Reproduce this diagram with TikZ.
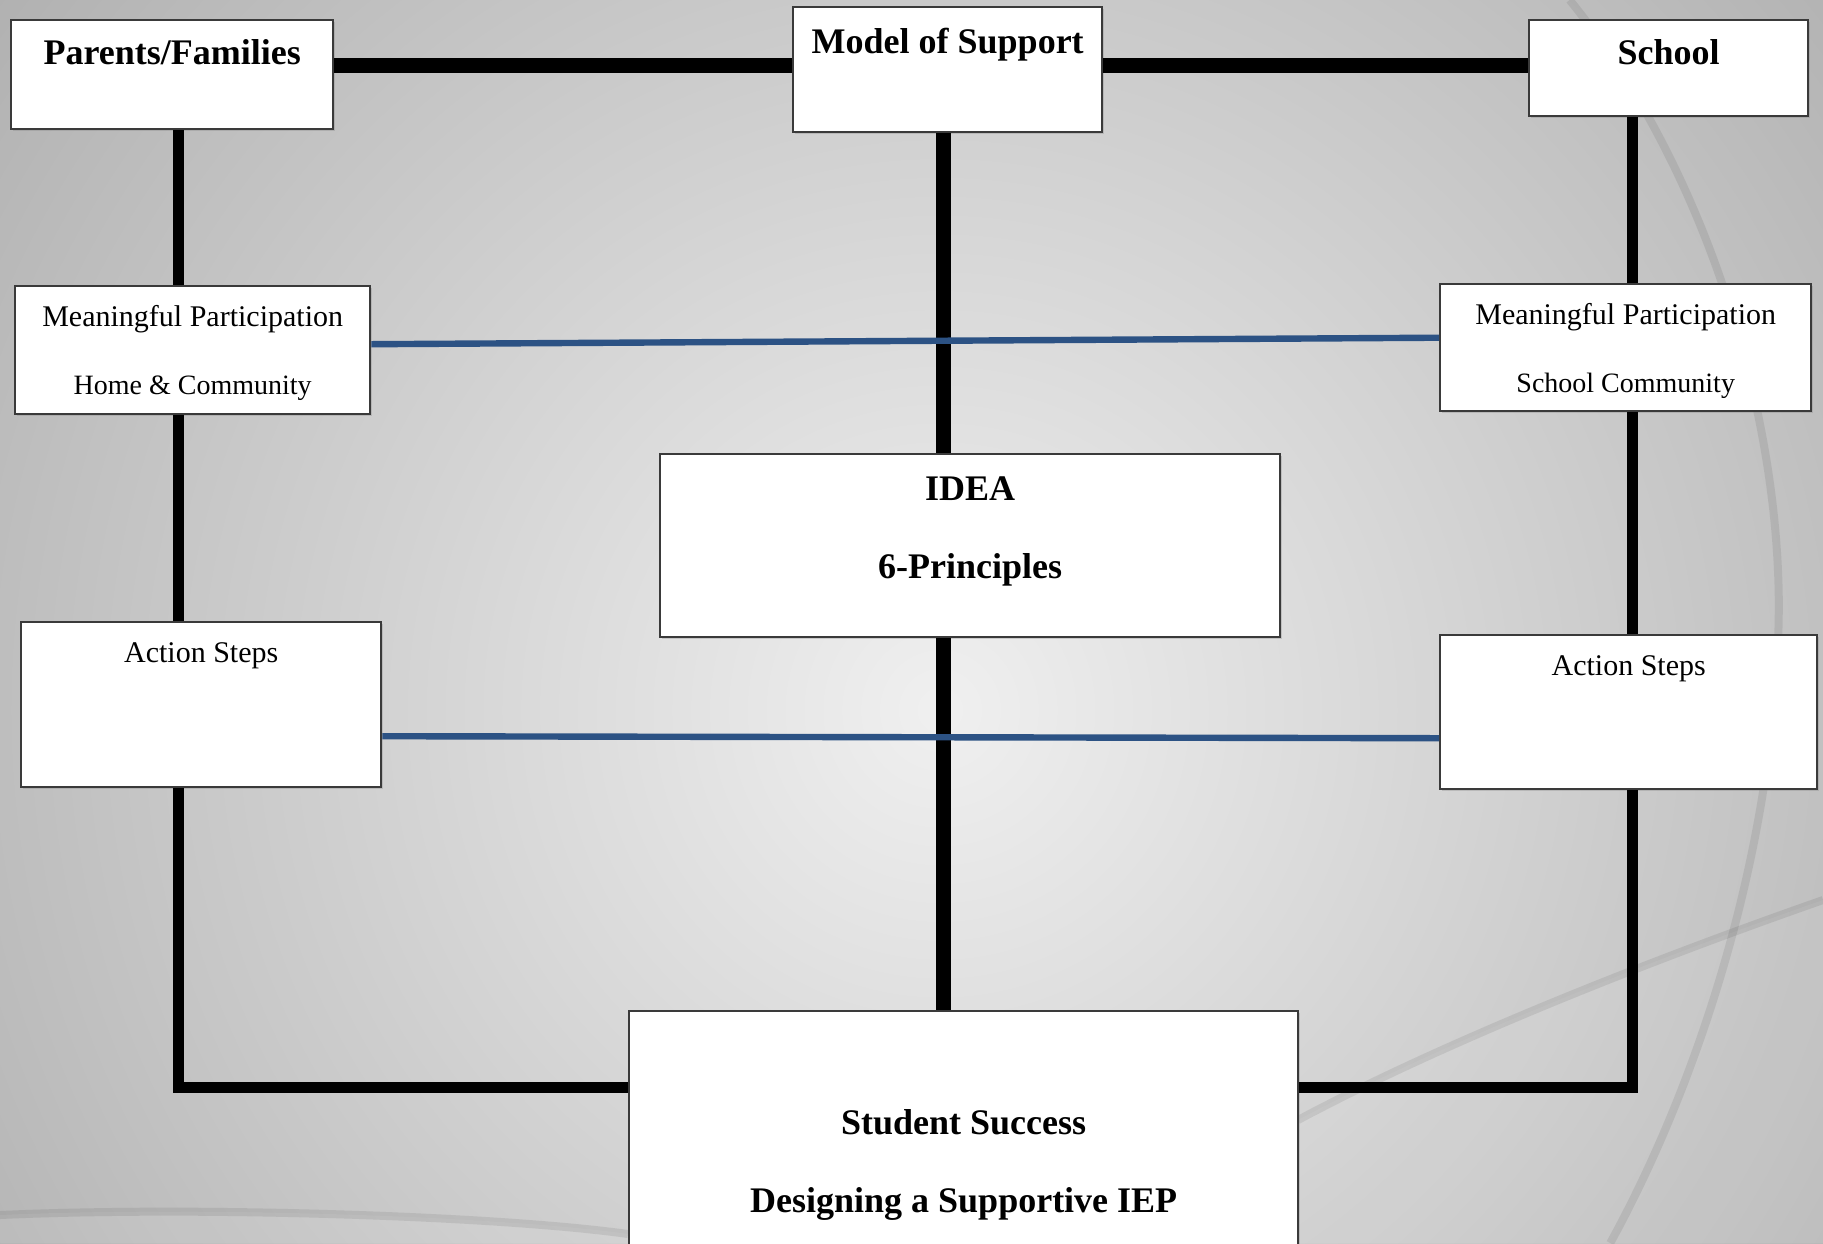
\documentclass[tikz,border=0pt]{standalone}
\usepackage{fontspec}
\setmainfont{Liberation Serif}
\usepackage{tikz}
\usetikzlibrary{
    shapes, 
    shadows, 
}
\newcommand{\headfont}{\fontsize{18}{39}\selectfont\bfseries}
\newcommand{\partfont}{\fontsize{15}{34}\selectfont}
\newcommand{\smallpart}{\fontsize{14}{34}\selectfont}
\newcommand{\twolines}[2]{\begin{tabular}[t]{@{}c@{}}#1\\#2\end{tabular}}
\newcommand{\mainwidth}{7.5pt}
\newcommand{\sidewidth}{5.5pt}
\newcommand{\bluewidth}{3.2pt}
\definecolor{linkblue}{RGB}{44,82,132}
\definecolor{boxedge}{RGB}{58,58,58}
\tikzstyle{mainlink} = [line width=\mainwidth, color=black]
\tikzstyle{sidelink} = [line width=\sidewidth, color=black]
\tikzstyle{bluelink} = [line width=\bluewidth, color=linkblue]
\tikzstyle{basebox} = [
  draw=boxedge,     
  fill=white,
  shape=rectangle,
  line width=1.2pt,
  anchor=north west,
  inner xsep=0pt,
  inner ysep=0pt,
  drop shadow={opacity=0.3, shadow xshift=1pt, shadow yshift=-1pt},
]
\tikzstyle{headbox} = [basebox, font=\headfont]
\tikzstyle{partbox} = [basebox, font=\partfont]
\tikzstyle{rimline} = [black, opacity=0.08, line width=4pt]

\begin{document}
\begin{tikzpicture}[x=1pt, y=-1pt]
    \useasboundingbox (0,0) rectangle (911.5,621.5);
    \clip (0,0) rectangle (911.5,621.5);
    % backdrop
    \shade[inner color=black!6, outer color=black!33] (470,355) circle (650pt);
    \fill[white, opacity=0.08] (911.5,450) .. controls (820,482) and (720,522) .. (649,560)
      -- (649,621.5) -- (911.5,621.5) -- cycle;
    \fill[white, opacity=0.08] (0,607.5) .. controls (100,603) and (250,608) .. (314,617)
      -- (314,621.5) -- (0,621.5) -- cycle;
    \draw[rimline] (784.8,0) .. controls (850,80) and (889,200) .. (889.4,302.3)
      .. controls (889,420) and (850,540) .. (805.1,621.5);
    \draw[rimline] (911.5,450) .. controls (820,482) and (720,522) .. (649,560);
    \draw[rimline] (0,607.5) .. controls (100,603) and (250,608) .. (314,617);

    \coordinate (lcol) at (89,0);
    \coordinate (rcol) at (816,0);
    \coordinate (ccol) at (471.5,0);
    \coordinate (toprow) at (0,32.5);
    \coordinate (base) at (0,543.5);

    \node[headbox, minimum width=161pt, text height=22pt, text depth=32.5pt] (Parents) at (5,9.5) {Parents/Families};
    \node[headbox, minimum width=154.5pt, text height=23pt, text depth=39.5pt] (Model) at (396,3) {Model of Support};
    \node[headbox, minimum width=139.5pt, text height=22pt, text depth=26pt] (School) at (764,9.5) {School};
    \node[partbox, minimum width=177.5pt, text height=20pt, text depth=44pt] (MPhome) at (7,142.5)
      {\twolines{Meaningful Participation}{\smallpart Home \& Community}};
    \node[partbox, minimum width=185.5pt, text height=20pt, text depth=43.5pt] (MPschool) at (719.5,141.5)
      {\twolines{Meaningful Participation}{\smallpart School Community}};
    \node[headbox, minimum width=310pt, text height=23pt, text depth=68.5pt] (IDEA) at (329.5,226.5)
      {\twolines{IDEA}{6-Principles}};
    \node[partbox, minimum width=180pt, text height=20pt, text depth=62.5pt] (ActionL) at (10,310.5) {Action Steps};
    \node[partbox, minimum width=188.5pt, text height=20pt, text depth=57pt] (ActionR) at (719.5,317) {Action Steps};
    \node[headbox, minimum width=334.5pt, text height=61.5pt, text depth=88.5pt] (Student) at (314,505)
      {\twolines{Student Success}{Designing a Supportive IEP}};

    \draw[mainlink] (Parents.east |- toprow) -- (Model.west |- toprow);
    \draw[mainlink] (Model.east |- toprow) -- (School.west |- toprow);
    \draw[mainlink] (Model.south -| ccol) -- (IDEA.north -| ccol);
    \draw[mainlink] (IDEA.south -| ccol) -- (Student.north -| ccol);
    \draw[sidelink] (Parents.south -| lcol) -- (MPhome.north -| lcol);
    \draw[sidelink] (MPhome.south -| lcol) -- (ActionL.north -| lcol);
    \draw[sidelink] (ActionL.south -| lcol) |- (Student.west |- base);
    \draw[sidelink] (School.south -| rcol) -- (MPschool.north -| rcol);
    \draw[sidelink] (MPschool.south -| rcol) -- (ActionR.north -| rcol);
    \draw[sidelink] (ActionR.south -| rcol) |- (Student.east |- base);
    \draw[bluelink] ([yshift=3pt]MPhome.east) -- ([yshift=5pt]MPschool.west);
    \draw[bluelink] ([yshift=-15.75pt]ActionL.east) -- ([yshift=-13pt]ActionR.west);
\end{tikzpicture}
\end{document}
